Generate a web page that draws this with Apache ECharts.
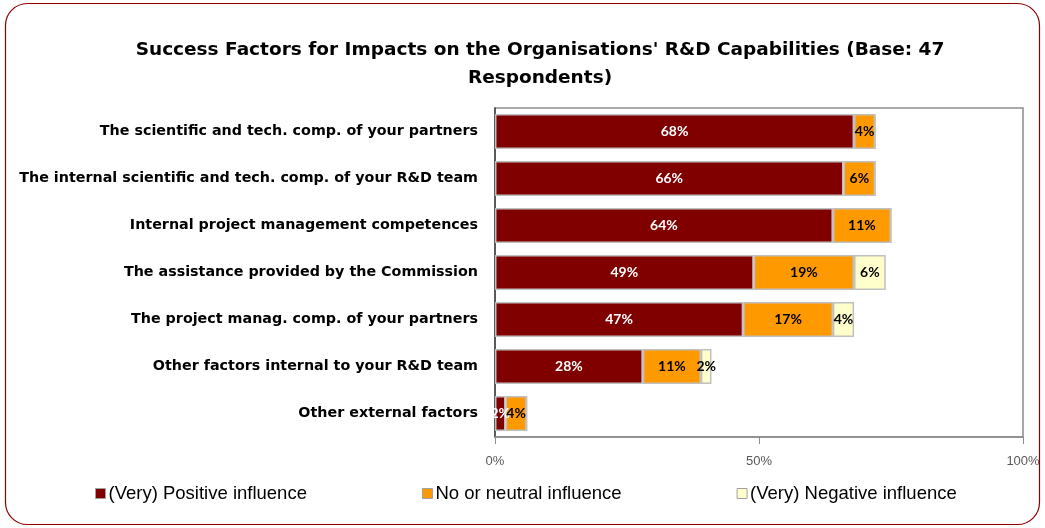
<!DOCTYPE html>
<html>
<head>
<meta charset="utf-8">
<script src="https://cdn.jsdelivr.net/npm/echarts@6/dist/echarts.min.js"></script>
<style>
  html, body { margin: 0; padding: 0; background: #fff; }
  #chart { width: 1045px; height: 528px; }
</style>
</head>
<body>
<div id="chart"></div>
<script>
var categories = [
  "The scientific and tech. comp. of your partners",
  "The internal scientific and tech. comp. of your R&D team",
  "Internal project management competences",
  "The assistance provided by the Commission",
  "The project manag. comp. of your partners",
  "Other factors internal to your R&D team",
  "Other external factors"
];
var positive = [68, 66, 64, 49, 47, 28, 2];
var neutral = [4, 6, 11, 19, 17, 11, 4];
var negative = [0, 0, 0, 6, 4, 2, 0];
var seriesNames = ["(Very) Positive influence", "No or neutral influence", "(Very) Negative influence"];
var xTicks = [0, 50, 100];

var chart = echarts.init(document.getElementById("chart"));

function labelFor(color) {
  return {
    show: true,
    position: "inside",
    color: color,
    fontSize: 14,
    fontWeight: "bold",
    fontFamily: "Lato",
    formatter: function (p) { return p.value > 0 ? p.value + "%" : ""; }
  };
}

function makeSeries(name, data, fill, textColor) {
  return {
    name: name,
    type: "bar",
    stack: "total",
    data: data,
    barWidth: 35,
    itemStyle: { color: fill, borderColor: "#c0c0c0", borderWidth: 1.5 },
    label: labelFor(textColor),
    emphasis: { disabled: true }
  };
}

var option = {
  animation: false,
  graphic: [{
    type: "rect",
    shape: { x: 5.5, y: 3.5, width: 1034, height: 521, r: 22 },
    style: { fill: "none", stroke: "#8b0000", lineWidth: 1.2 },
    z: -1
  }],
  title: {
    text: "Success Factors for Impacts on the Organisations' R&D Capabilities (Base: 47\nRespondents)",
    left: 535,
    textAlign: "center",
    top: 31,
    textStyle: {
      fontFamily: "DejaVu Sans",
      fontSize: 18.5,
      fontWeight: "bold",
      color: "#000",
      lineHeight: 28
    }
  },
  legend: {
    data: seriesNames,
    left: 90,
    top: 479,
    itemWidth: 10,
    itemHeight: 10,
    itemGap: 115,
    icon: "rect",
    itemStyle: { borderColor: "#a0a0a0", borderWidth: 1 },
    textStyle: { fontFamily: "Liberation Sans", fontSize: 18.5, color: "#000", padding: [0, 0, 0, -2] }
  },
  grid: {
    left: 495,
    right: 22,
    top: 108,
    bottom: 91,
    show: true,
    borderColor: "#8c8c8c",
    borderWidth: 1.5
  },
  xAxis: {
    type: "value",
    min: 0,
    max: 100,
    interval: 50,
    axisLine: { show: true, lineStyle: { color: "#8c8c8c", width: 1.5 } },
    axisTick: { show: true, length: 7, inside: false, lineStyle: { color: "#8c8c8c" } },
    splitLine: { show: false },
    axisLabel: {
      margin: 18,
      fontFamily: "Liberation Sans",
      fontSize: 13,
      color: "#595959",
      formatter: function (v) { return xTicks.indexOf(v) >= 0 ? v + "%" : ""; }
    }
  },
  yAxis: {
    type: "category",
    data: categories,
    inverse: true,
    axisLine: { show: true, lineStyle: { color: "#404040", width: 1.5 } },
    axisTick: { show: false },
    axisLabel: {
      margin: 17,
      fontFamily: "DejaVu Sans",
      fontWeight: "bold",
      fontSize: 14.3,
      color: "#000"
    }
  },
  series: [
    makeSeries(seriesNames[0], positive, "#800000", "#ffffff"),
    makeSeries(seriesNames[1], neutral, "#ff9900", "#000000"),
    makeSeries(seriesNames[2], negative, "#ffffcc", "#000000")
  ]
};

chart.setOption(option);
</script>
</body>
</html>
